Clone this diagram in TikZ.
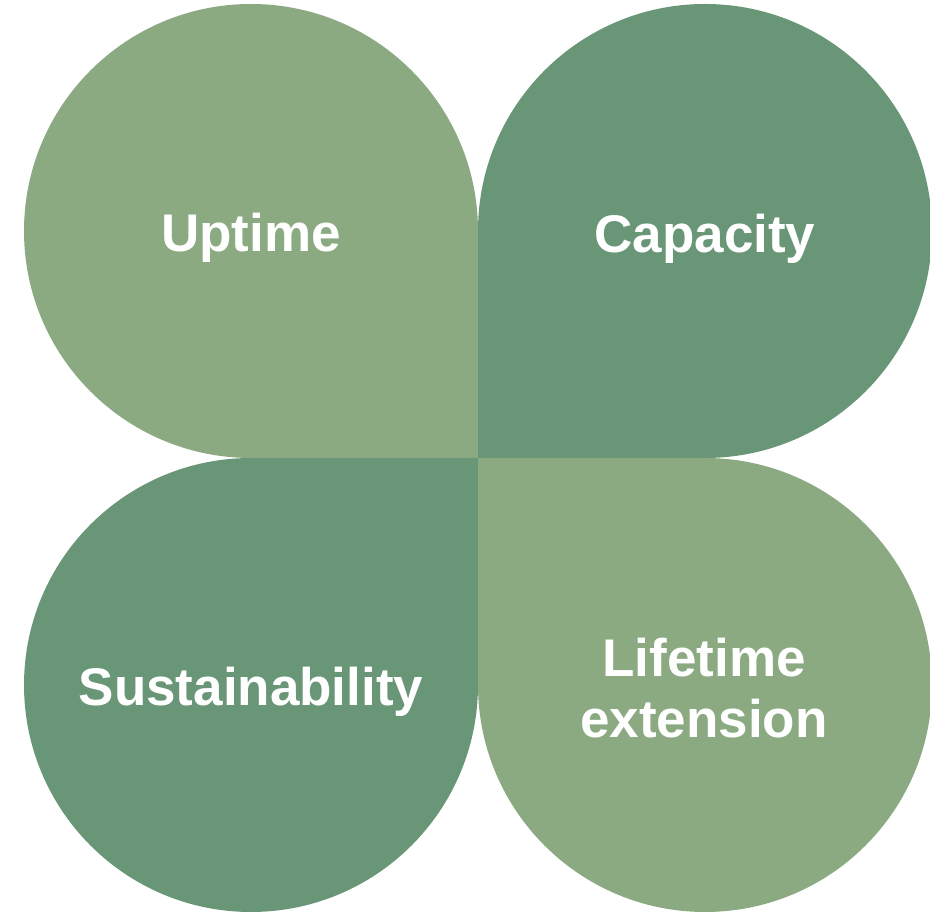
\documentclass[tikz,border=0pt]{standalone}
\usepackage{fontspec}
\setmainfont{Liberation Sans}
\definecolor{petallight}{RGB}{139,170,130}
\definecolor{petaldark}{RGB}{104,150,118}
\begin{document}
\begin{tikzpicture}[x=1pt,y=1pt,
  lbl/.style={text=white,font=\fontsize{53}{61}\selectfont\bfseries,align=center,inner sep=0pt}]
\useasboundingbox (0,0) rectangle (930,912);
\coordinate (c) at (478,454);
% top-left
\fill[petallight] (c) -- (478,681) arc[start angle=0,end angle=270,radius=227] -- cycle;
% top-right
\fill[petaldark] (c) -- (705,454) arc[start angle=270,end angle=540,radius=227] -- cycle;
% bottom-left
\fill[petaldark] (c) -- (251,454) arc[start angle=90,end angle=360,radius=227] -- cycle;
% bottom-right
\fill[petallight] (c) -- (478,227) arc[start angle=180,end angle=450,radius=227] -- cycle;
\node[lbl] (up) at (251,674) {Uptime};
\node[lbl] (cap) at (705,673) {Capacity};
\node[lbl] (sus) at (251,220) {Sustainability};
\node[lbl] (life) at (704,224) {Lifetime\\extension};
\end{tikzpicture}
\end{document}
